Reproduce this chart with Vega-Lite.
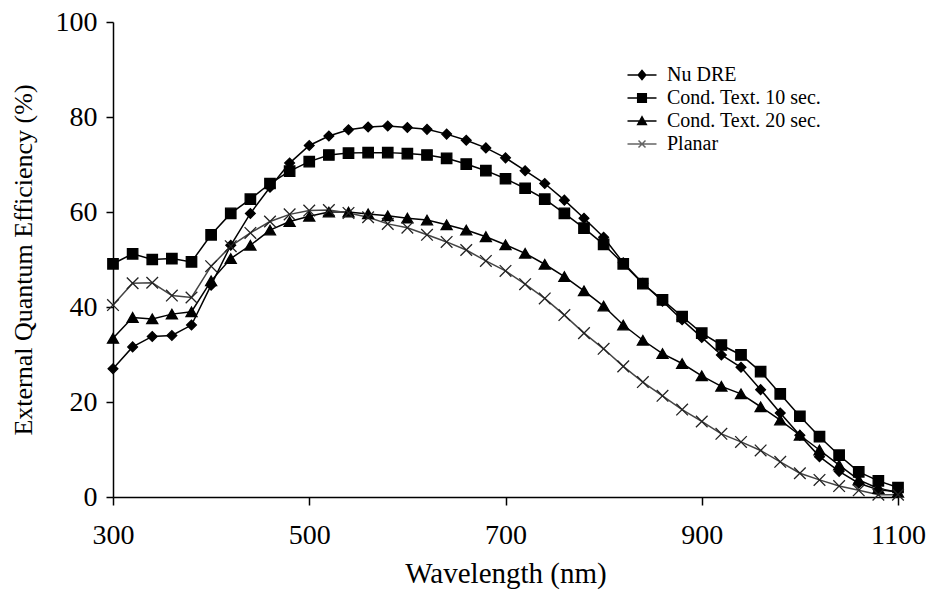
{
  "$schema": "https://vega.github.io/schema/vega-lite/v6.json",
  "width": 785,
  "height": 475,
  "autosize": "none",
  "padding": {"left": 113, "top": 22, "right": 31, "bottom": 94},
  "background": "white",
  "config": {
    "view": {"stroke": null},
    "font": "Liberation Serif",
    "legend": {"labelFont": "Liberation Serif", "labelFontSize": 20, "labelColor": "black"},
    "axis": {
      "domainColor": "black", "domainWidth": 1.5, "tickColor": "black", "tickWidth": 1.5, "tickSize": 7,
      "grid": false, "labelFont": "Liberation Serif", "labelFontSize": 28, "labelColor": "black", "labelFlush": false,
      "titleFont": "Liberation Serif", "titleFontSize": 26, "titleFontWeight": "normal", "titleColor": "black"
    }
  },
  "data": {"values": [
    {"w":300,"s":"Nu DRE","v":27.0},{"w":320,"s":"Nu DRE","v":31.6},{"w":340,"s":"Nu DRE","v":33.8},{"w":360,"s":"Nu DRE","v":34.0},{"w":380,"s":"Nu DRE","v":36.2},{"w":400,"s":"Nu DRE","v":44.6},{"w":420,"s":"Nu DRE","v":53.0},{"w":440,"s":"Nu DRE","v":59.7},{"w":460,"s":"Nu DRE","v":65.2},{"w":480,"s":"Nu DRE","v":70.3},{"w":500,"s":"Nu DRE","v":74.0},{"w":520,"s":"Nu DRE","v":76.0},{"w":540,"s":"Nu DRE","v":77.3},{"w":560,"s":"Nu DRE","v":77.9},{"w":580,"s":"Nu DRE","v":78.1},{"w":600,"s":"Nu DRE","v":77.8},{"w":620,"s":"Nu DRE","v":77.4},{"w":640,"s":"Nu DRE","v":76.4},{"w":660,"s":"Nu DRE","v":75.1},{"w":680,"s":"Nu DRE","v":73.5},{"w":700,"s":"Nu DRE","v":71.4},{"w":720,"s":"Nu DRE","v":68.7},{"w":740,"s":"Nu DRE","v":66.0},{"w":760,"s":"Nu DRE","v":62.5},{"w":780,"s":"Nu DRE","v":58.7},{"w":800,"s":"Nu DRE","v":54.7},{"w":820,"s":"Nu DRE","v":49.3},{"w":840,"s":"Nu DRE","v":45.0},{"w":860,"s":"Nu DRE","v":41.2},{"w":880,"s":"Nu DRE","v":37.3},{"w":900,"s":"Nu DRE","v":33.6},{"w":920,"s":"Nu DRE","v":29.9},{"w":940,"s":"Nu DRE","v":27.3},{"w":960,"s":"Nu DRE","v":22.6},{"w":980,"s":"Nu DRE","v":17.7},{"w":1000,"s":"Nu DRE","v":13.0},{"w":1020,"s":"Nu DRE","v":8.5},{"w":1040,"s":"Nu DRE","v":5.4},{"w":1060,"s":"Nu DRE","v":2.9},{"w":1080,"s":"Nu DRE","v":1.5},{"w":1100,"s":"Nu DRE","v":1.1},
    {"w":300,"s":"Cond. Text. 10 sec.","v":49.1},{"w":320,"s":"Cond. Text. 10 sec.","v":51.2},{"w":340,"s":"Cond. Text. 10 sec.","v":50.0},{"w":360,"s":"Cond. Text. 10 sec.","v":50.2},{"w":380,"s":"Cond. Text. 10 sec.","v":49.5},{"w":400,"s":"Cond. Text. 10 sec.","v":55.2},{"w":420,"s":"Cond. Text. 10 sec.","v":59.7},{"w":440,"s":"Cond. Text. 10 sec.","v":62.7},{"w":460,"s":"Cond. Text. 10 sec.","v":66.0},{"w":480,"s":"Cond. Text. 10 sec.","v":68.6},{"w":500,"s":"Cond. Text. 10 sec.","v":70.6},{"w":520,"s":"Cond. Text. 10 sec.","v":72.0},{"w":540,"s":"Cond. Text. 10 sec.","v":72.4},{"w":560,"s":"Cond. Text. 10 sec.","v":72.5},{"w":580,"s":"Cond. Text. 10 sec.","v":72.5},{"w":600,"s":"Cond. Text. 10 sec.","v":72.3},{"w":620,"s":"Cond. Text. 10 sec.","v":72.0},{"w":640,"s":"Cond. Text. 10 sec.","v":71.3},{"w":660,"s":"Cond. Text. 10 sec.","v":70.1},{"w":680,"s":"Cond. Text. 10 sec.","v":68.7},{"w":700,"s":"Cond. Text. 10 sec.","v":67.0},{"w":720,"s":"Cond. Text. 10 sec.","v":65.0},{"w":740,"s":"Cond. Text. 10 sec.","v":62.7},{"w":760,"s":"Cond. Text. 10 sec.","v":59.7},{"w":780,"s":"Cond. Text. 10 sec.","v":56.6},{"w":800,"s":"Cond. Text. 10 sec.","v":53.2},{"w":820,"s":"Cond. Text. 10 sec.","v":49.1},{"w":840,"s":"Cond. Text. 10 sec.","v":44.9},{"w":860,"s":"Cond. Text. 10 sec.","v":41.5},{"w":880,"s":"Cond. Text. 10 sec.","v":38.0},{"w":900,"s":"Cond. Text. 10 sec.","v":34.5},{"w":920,"s":"Cond. Text. 10 sec.","v":32.0},{"w":940,"s":"Cond. Text. 10 sec.","v":29.9},{"w":960,"s":"Cond. Text. 10 sec.","v":26.4},{"w":980,"s":"Cond. Text. 10 sec.","v":21.7},{"w":1000,"s":"Cond. Text. 10 sec.","v":17.0},{"w":1020,"s":"Cond. Text. 10 sec.","v":12.7},{"w":1040,"s":"Cond. Text. 10 sec.","v":8.8},{"w":1060,"s":"Cond. Text. 10 sec.","v":5.3},{"w":1080,"s":"Cond. Text. 10 sec.","v":3.4},{"w":1100,"s":"Cond. Text. 10 sec.","v":2.0},
    {"w":300,"s":"Cond. Text. 20 sec.","v":33.4},{"w":320,"s":"Cond. Text. 20 sec.","v":37.8},{"w":340,"s":"Cond. Text. 20 sec.","v":37.5},{"w":360,"s":"Cond. Text. 20 sec.","v":38.5},{"w":380,"s":"Cond. Text. 20 sec.","v":39.0},{"w":400,"s":"Cond. Text. 20 sec.","v":45.5},{"w":420,"s":"Cond. Text. 20 sec.","v":50.2},{"w":440,"s":"Cond. Text. 20 sec.","v":53.0},{"w":460,"s":"Cond. Text. 20 sec.","v":56.2},{"w":480,"s":"Cond. Text. 20 sec.","v":58.0},{"w":500,"s":"Cond. Text. 20 sec.","v":59.1},{"w":520,"s":"Cond. Text. 20 sec.","v":60.0},{"w":540,"s":"Cond. Text. 20 sec.","v":60.0},{"w":560,"s":"Cond. Text. 20 sec.","v":59.6},{"w":580,"s":"Cond. Text. 20 sec.","v":59.2},{"w":600,"s":"Cond. Text. 20 sec.","v":58.7},{"w":620,"s":"Cond. Text. 20 sec.","v":58.3},{"w":640,"s":"Cond. Text. 20 sec.","v":57.3},{"w":660,"s":"Cond. Text. 20 sec.","v":56.2},{"w":680,"s":"Cond. Text. 20 sec.","v":54.8},{"w":700,"s":"Cond. Text. 20 sec.","v":53.1},{"w":720,"s":"Cond. Text. 20 sec.","v":51.3},{"w":740,"s":"Cond. Text. 20 sec.","v":49.0},{"w":760,"s":"Cond. Text. 20 sec.","v":46.4},{"w":780,"s":"Cond. Text. 20 sec.","v":43.4},{"w":800,"s":"Cond. Text. 20 sec.","v":40.2},{"w":820,"s":"Cond. Text. 20 sec.","v":36.2},{"w":840,"s":"Cond. Text. 20 sec.","v":33.0},{"w":860,"s":"Cond. Text. 20 sec.","v":30.2},{"w":880,"s":"Cond. Text. 20 sec.","v":28.1},{"w":900,"s":"Cond. Text. 20 sec.","v":25.5},{"w":920,"s":"Cond. Text. 20 sec.","v":23.3},{"w":940,"s":"Cond. Text. 20 sec.","v":21.7},{"w":960,"s":"Cond. Text. 20 sec.","v":19.0},{"w":980,"s":"Cond. Text. 20 sec.","v":16.2},{"w":1000,"s":"Cond. Text. 20 sec.","v":13.0},{"w":1020,"s":"Cond. Text. 20 sec.","v":9.9},{"w":1040,"s":"Cond. Text. 20 sec.","v":6.7},{"w":1060,"s":"Cond. Text. 20 sec.","v":3.6},{"w":1080,"s":"Cond. Text. 20 sec.","v":1.8},{"w":1100,"s":"Cond. Text. 20 sec.","v":1.0},
    {"w":300,"s":"Planar","v":40.4},{"w":320,"s":"Planar","v":45.0},{"w":340,"s":"Planar","v":45.1},{"w":360,"s":"Planar","v":42.4},{"w":380,"s":"Planar","v":42.0},{"w":400,"s":"Planar","v":48.6},{"w":420,"s":"Planar","v":52.8},{"w":440,"s":"Planar","v":55.6},{"w":460,"s":"Planar","v":58.0},{"w":480,"s":"Planar","v":59.5},{"w":500,"s":"Planar","v":60.3},{"w":520,"s":"Planar","v":60.4},{"w":540,"s":"Planar","v":59.8},{"w":560,"s":"Planar","v":58.9},{"w":580,"s":"Planar","v":57.5},{"w":600,"s":"Planar","v":56.7},{"w":620,"s":"Planar","v":55.2},{"w":640,"s":"Planar","v":53.7},{"w":660,"s":"Planar","v":52.0},{"w":680,"s":"Planar","v":49.7},{"w":700,"s":"Planar","v":47.6},{"w":720,"s":"Planar","v":44.8},{"w":740,"s":"Planar","v":41.8},{"w":760,"s":"Planar","v":38.3},{"w":780,"s":"Planar","v":34.5},{"w":800,"s":"Planar","v":31.2},{"w":820,"s":"Planar","v":27.5},{"w":840,"s":"Planar","v":24.2},{"w":860,"s":"Planar","v":21.3},{"w":880,"s":"Planar","v":18.4},{"w":900,"s":"Planar","v":15.9},{"w":920,"s":"Planar","v":13.3},{"w":940,"s":"Planar","v":11.6},{"w":960,"s":"Planar","v":9.8},{"w":980,"s":"Planar","v":7.4},{"w":1000,"s":"Planar","v":5.0},{"w":1020,"s":"Planar","v":3.6},{"w":1040,"s":"Planar","v":2.3},{"w":1060,"s":"Planar","v":1.4},{"w":1080,"s":"Planar","v":0.5},{"w":1100,"s":"Planar","v":0.5}
  ]},
  "encoding": {
    "x": {"field": "w", "type": "quantitative", "scale": {"domain": [300, 1100], "nice": false},
      "axis": {"values": [300, 500, 700, 900, 1100], "format": "d", "title": "Wavelength (nm)", "titleFontSize": 29, "labelPadding": 16, "titlePadding": 10, "tickSize": 8}},
    "y": {"field": "v", "type": "quantitative", "scale": {"domain": [0, 100], "nice": false},
      "axis": {"values": [0, 20, 40, 60, 80, 100], "title": "External Quantum Efficiency (%)", "labelPadding": 9, "titlePadding": 19}}
  },
  "layer": [
    {
      "mark": {"type": "line", "strokeWidth": 1.5},
      "encoding": {
        "stroke": {"field": "s", "type": "nominal", "legend": null,
          "scale": {"domain": ["Nu DRE", "Cond. Text. 10 sec.", "Cond. Text. 20 sec.", "Planar"], "range": ["#000000", "#000000", "#000000", "#444444"]}}
      }
    },
    {
      "mark": {"type": "point", "filled": true, "opacity": 1, "strokeWidth": 1.3},
      "encoding": {
        "shape": {"field": "s", "type": "nominal", "legend": null,
          "scale": {"domain": ["Nu DRE", "Cond. Text. 10 sec.", "Cond. Text. 20 sec.", "Planar"], "range": ["diamond", "square", "triangle-up", "M-1,-1L1,1M-1,1L1,-1"]}},
        "size": {"field": "s", "type": "nominal", "legend": null,
          "scale": {"domain": ["Nu DRE", "Cond. Text. 10 sec.", "Cond. Text. 20 sec.", "Planar"], "range": [95, 135, 125, 40]}},
        "fill": {"value": "black"},
        "stroke": {"field": "s", "type": "nominal", "legend": null,
          "scale": {"domain": ["Nu DRE", "Cond. Text. 10 sec.", "Cond. Text. 20 sec.", "Planar"], "range": ["#000000", "#000000", "#000000", "#222222"]}}
      }
    },
    {
      "transform": [{"filter": "datum.w < 0"}],
      "mark": {"type": "point", "filled": true, "fill": "black", "size": 400, "strokeWidth": 1.5, "opacity": 1},
      "encoding": {
        "shape": {"field": "s", "type": "nominal",
          "scale": {"domain": ["Nu DRE", "Cond. Text. 10 sec.", "Cond. Text. 20 sec.", "Planar"],
            "range": ["M-1.45,0H1.45M0,-0.46L0.38,0L0,0.46L-0.38,0Z", "M-1.45,0H1.45M-0.43,-0.43H0.43V0.43H-0.43Z", "M-1.45,0H1.45M-0.43,0.35L0,-0.43L0.43,0.35Z", "M-1.45,0H1.45M-0.35,-0.35L0.35,0.35M-0.35,0.35L0.35,-0.35"]},
          "legend": {"orient": "none", "legendX": 518, "legendY": 42, "title": null, "labelFont": "Liberation Serif", "labelFontSize": 20, "labelColor": "black", "symbolSize": 400, "symbolStrokeWidth": 1.5, "labelOffset": 14, "rowPadding": 2, "padding": 0,
            "encode": {"labels": {"update": {"font": {"value": "Liberation Serif"}, "fontSize": {"value": 20}}}}}},
        "stroke": {"field": "s", "type": "nominal",
          "scale": {"domain": ["Nu DRE", "Cond. Text. 10 sec.", "Cond. Text. 20 sec.", "Planar"], "range": ["#000000", "#000000", "#000000", "#666666"]},
          "legend": {"orient": "none", "legendX": 518, "legendY": 42, "title": null, "labelFont": "Liberation Serif", "labelFontSize": 20, "labelColor": "black", "symbolSize": 400, "symbolStrokeWidth": 1.5, "labelOffset": 14, "rowPadding": 2, "padding": 0,
            "encode": {"labels": {"update": {"font": {"value": "Liberation Serif"}, "fontSize": {"value": 20}}}}}}
      }
    },
    {
      "data": {"values": [{}]},
      "mark": {"type": "rule", "stroke": "black", "strokeWidth": 1.5},
      "encoding": {"x": {"datum": 1100}, "y": null}
    }
  ],
  "resolve": {
    "scale": {"shape": "independent", "stroke": "independent", "size": "independent"},
    "legend": {"shape": "independent", "stroke": "independent"}
  }
}
